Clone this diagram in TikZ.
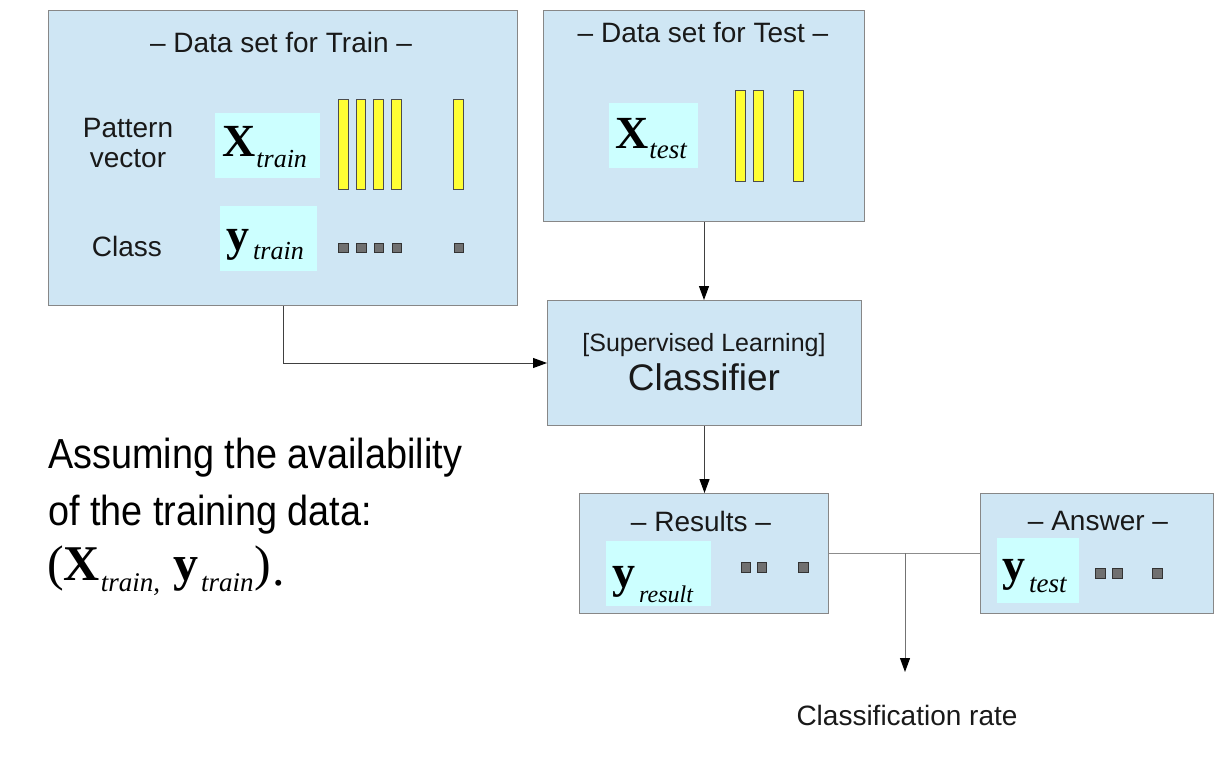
\documentclass[tikz,border=0pt]{standalone}
\usepackage{fontspec}
\setmainfont{Liberation Sans}
\newfontfamily\serf{Liberation Serif}
\usetikzlibrary{arrows.meta}
\definecolor{boxblue}{RGB}{207,230,244}
\definecolor{boxline}{RGB}{135,135,135}
\definecolor{lcyan}{RGB}{204,255,255}
\definecolor{baryel}{RGB}{255,255,51}
\definecolor{sqgray}{RGB}{112,112,112}
\newcommand\fs[1]{\fontsize{#1}{#1}\selectfont}
% #1 bold letter, #2 subscript, #3 kern, #4 lowering, #5 subscript size
\newcommand\bvec[5]{{\serf\fs{46}\bfseries #1}\kern#3\raisebox{-#4}{\serf\fs{#5}\itshape #2}}
\begin{document}
\begin{tikzpicture}[x=1pt,y=-1pt,
  bigbox/.style={draw=boxline, fill=boxblue, line width=1pt, anchor=north west, inner sep=0pt},
  inbox/.style={fill=lcyan, inner sep=0pt, anchor=north west},
  bar/.style={draw=black!70, fill=baryel, line width=0.9pt, inner sep=0pt, minimum width=9.5pt, minimum height=90pt, anchor=north west},
  sq/.style={draw=black!80, fill=sqgray, line width=0.9pt, inner sep=0pt, minimum size=9.5pt, anchor=north west},
  lbl/.style={anchor=base, inner sep=0pt, text=black!90, font=\fs{28}},
  vtxt/.style={anchor=base west, inner sep=0pt, text=black},
  conn/.style={draw=black!75, line width=1pt},
  arr/.style={conn, -{Triangle[length=14pt,width=10pt,color=black]}}]
\useasboundingbox (0,0) rectangle (1232,760);

% ---------- main boxes ----------
\node[bigbox, minimum width=469pt, minimum height=295pt] (train) at (48,10) {};
\node[bigbox, minimum width=321pt, minimum height=211pt] (test) at (543,10) {};
\node[bigbox, minimum width=314pt, minimum height=125pt] (clf) at (547,300) {};
\node[bigbox, minimum width=249pt, minimum height=120pt] (res) at (579,493) {};
\node[bigbox, minimum width=233pt, minimum height=120pt] (ans) at (980,493) {};

% ---------- train box content ----------
\node[lbl] (ttrain) at (281,53) {– Data set for Train –};
\node[lbl] (pat) at (128,137) {Pattern};
\node[lbl] (vec) at (128,167) {vector};
\node[lbl] (cls) at (127,256) {Class};
\node[inbox, minimum width=105pt, minimum height=65pt] (xtrbox) at (215,113) {};
\node[vtxt] (xtr) at (222,156) {\bvec{X}{train}{1pt}{11pt}{26}};
\node[inbox, minimum width=97pt, minimum height=65pt] (ytrbox) at (220,206) {};
\node[vtxt] (ytr) at (226,250) {\bvec{y}{train}{4pt}{9pt}{26}};
\node[bar] (b1) at (338,99) {};
\node[bar] (b2) at (355.5,99) {};
\node[bar] (b3) at (373,99) {};
\node[bar] (b4) at (391,99) {};
\node[bar] (b5) at (453,99) {};
\node[sq] (s1) at (338,242.5) {};
\node[sq] (s2) at (356,242.5) {};
\node[sq] (s3) at (373.5,242.5) {};
\node[sq] (s4) at (391.5,242.5) {};
\node[sq] (s5) at (453.5,242.5) {};

% ---------- test box content ----------
\node[lbl] (ttest) at (703,43) {– Data set for Test –};
\node[inbox, minimum width=89pt, minimum height=65pt] (xtebox) at (609,103) {};
\node[vtxt] (xte) at (615,148) {\bvec{X}{test}{1pt}{10pt}{27}};
\node[bar, minimum height=91pt] (c1) at (735,90) {};
\node[bar, minimum height=91pt] (c2) at (753,90) {};
\node[bar, minimum height=91pt] (c3) at (793,90) {};

% ---------- classifier ----------
\node[lbl, font=\fs{25}] (sup) at (704,351) {[Supervised Learning]};
\node[lbl, font=\fs{37}] (clft) at (704,390) {Classifier};

% ---------- results ----------
\node[lbl] (tres) at (701,531) {– Results –};
\node[inbox, minimum width=105pt, minimum height=65pt] (yrebox) at (606,541) {};
\node[vtxt] (yre) at (612,587) {\bvec{y}{result}{4pt}{15pt}{24}};
\node[sq] (r1) at (740.5,562) {};
\node[sq] (r2) at (756.5,562) {};
\node[sq] (r3) at (798,562) {};

% ---------- answer ----------
\node[lbl] (tans) at (1098,530) {– Answer –};
\node[inbox, minimum width=82pt, minimum height=65pt] (ytebox) at (997,538) {};
\node[vtxt] (yte) at (1002,580) {\bvec{y}{test}{4pt}{12pt}{27}};
\node[sq, minimum size=10pt] (a1) at (1094.5,568) {};
\node[sq, minimum size=10pt] (a2) at (1112,568) {};
\node[sq, minimum size=10pt] (a3) at (1152,568) {};

% ---------- classification rate ----------
\node[lbl] (rate) at (907,725) {Classification rate};
\coordinate (junc) at (905,553);

% ---------- connectors ----------
\draw[arr] (train.south) |- (clf.west);
\draw[arr] (test.south) -- (test.south |- clf.north);
\draw[arr] (clf.south) -- (clf.south |- res.north);
\draw[conn, draw=black!45] (res.east) -- (ans.west);
\draw[arr, draw=black!55] (junc) -- (905,672);

% ---------- big text ----------
\node[anchor=base west, inner sep=0pt, xscale=0.9, font=\fs{42}] (l1) at (48,468) {Assuming the availability};
\node[anchor=base west, inner sep=0pt, xscale=0.9, font=\fs{42}] (l2) at (48,525) {of the training data:};
\node[anchor=base west, inner sep=0pt] (l3) at (47,580) {\serf\fs{50}(\textbf{X}\kern1pt\raisebox{-11pt}{\fs{27}\itshape train,}\kern13pt\textbf{y}\kern3pt\raisebox{-11pt}{\fs{27}\itshape train}\kern1pt)\kern1pt\raisebox{-5pt}{.}};
\end{tikzpicture}
\end{document}
